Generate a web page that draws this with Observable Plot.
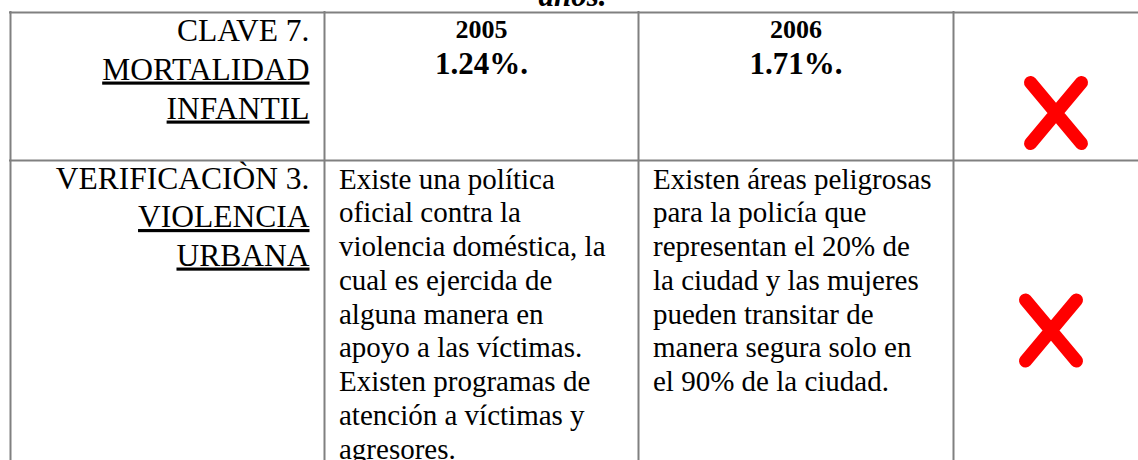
<!DOCTYPE html>
<html>
<head>
<meta charset="utf-8">
<script src="https://cdn.jsdelivr.net/npm/d3@7"></script>
<script src="https://cdn.jsdelivr.net/npm/@observablehq/plot@0.6"></script>
<style>
  html, body { margin: 0; padding: 0; background: #fff; }
  #chart svg { display: block; background: #fff; }
</style>
</head>
<body>
<div id="chart"></div>
<script>
// ---------- DATA ----------
const title = "años.";
const indicatorCodes = ["CLAVE 7.", "VERIFICACIÒN 3."];
const indicatorNames = [["MORTALIDAD", "INFANTIL"], ["VIOLENCIA", "URBANA"]];
const years = ["2005", "2006"];
const mortalityRates = ["1.24%.", "1.71%."];
const violence2005 = [
  "Existe una política",
  "oficial contra la",
  "violencia doméstica, la",
  "cual es ejercida de",
  "alguna manera en",
  "apoyo a las víctimas.",
  "Existen programas de",
  "atención a víctimas y",
  "agresores."
];
const violence2006 = [
  "Existen áreas peligrosas",
  "para la policía que",
  "representan el 20% de",
  "la ciudad y las mujeres",
  "pueden transitar de",
  "manera segura solo en",
  "el 90% de la ciudad."
];
const verdicts = [false, false]; // both rows marked with a red ✗

// ---------- LAYOUT ----------
const W = 1138, H = 460;
const colEdges = [10, 324, 638, 953, 1151];
const rowEdges = [12, 160, 520];
const serif = "'Liberation Serif', 'Times New Roman', serif";
const labelSize = 31.5, bodySize = 29, yearSize = 26, valueSize = 31, titleSize = 31;
const labelLineH = [39, 38.5], bodyLineH = 33.75;
const labelTop = 28, bodyTop = 28, yearTop = 25, valueTop = 61;
const markOffset = [[3.5, 100.5], [-1.5, 170]];
const mid = (a, b) => (a + b) / 2;
// default lineAnchor "middle" puts baseline at y + 0.32em
const base = (baseline, fs) => baseline - 0.32 * fs;

// ---------- DERIVED TABLES ----------
const labelLines = [];
indicatorCodes.forEach((code, r) => {
  [code, ...indicatorNames[r]].forEach((t, i) => {
    labelLines.push({
      text: t,
      x: colEdges[1] - 15,
      y: base(rowEdges[r] + labelTop + i * labelLineH[r], labelSize),
      underline: i > 0
    });
  });
});
const yearCells = years.map((t, c) => ({
  text: t, x: mid(colEdges[c + 1], colEdges[c + 2]), y: base(rowEdges[0] + yearTop, yearSize)
}));
const valueCells = mortalityRates.map((t, c) => ({
  text: t, x: mid(colEdges[c + 1], colEdges[c + 2]), y: base(rowEdges[0] + valueTop, valueSize)
}));
const bodyLines = [];
[violence2005, violence2006].forEach((lines, c) => {
  lines.forEach((t, i) => bodyLines.push({
    text: t, x: colEdges[c + 1] + 14.5, y: base(rowEdges[1] + bodyTop + i * bodyLineH, bodySize)
  }));
});
const crossMarks = verdicts.map((ok, r) => ({
  ok, x: mid(colEdges[3], colEdges[4]) + markOffset[r][0], y: rowEdges[r] + markOffset[r][1]
})).filter(d => !d.ok);

const hLines = rowEdges.slice(0, 2);
const vLines = colEdges.slice(0, 4);

const crossSymbol = {
  draw(ctx) {
    const w = 25.5, h = 30.5;
    ctx.moveTo(-w, -h); ctx.lineTo(w, h);
    ctx.moveTo(w, -h); ctx.lineTo(-w, h);
  }
};

const chart = Plot.plot({
  width: W, height: H, margin: 0,
  x: {type: "identity", axis: null},
  y: {type: "identity", axis: null},
  style: {background: "#fff"},
  marks: [
    Plot.ruleY(hLines, {y: d => d, x1: colEdges[0] - 1, x2: W, stroke: "#808080", strokeWidth: 2}),
    Plot.ruleX(vLines, {x: d => d, y1: rowEdges[0] - 1, y2: H, stroke: "#808080", strokeWidth: 2}),
    Plot.text([title], {x: 572, y: base(5, titleSize), text: d => d, fontFamily: serif, fontSize: titleSize,
      fontWeight: "bold", fontStyle: "italic", fill: "#000"}),
    Plot.text(labelLines.filter(d => !d.underline), {x: "x", y: "y", text: "text", textAnchor: "end",
      fontFamily: serif, fontSize: labelSize, fill: "#000"}),
    Plot.text(labelLines.filter(d => d.underline), {x: "x", y: "y", text: "text", textAnchor: "end",
      fontFamily: serif, fontSize: labelSize, fill: "#000", ariaDescription: "underlined"}),
    Plot.text(yearCells, {x: "x", y: "y", text: "text", fontFamily: serif, fontSize: yearSize,
      fontWeight: "bold", fill: "#000"}),
    Plot.text(valueCells, {x: "x", y: "y", text: "text", fontFamily: serif, fontSize: valueSize,
      fontWeight: "bold", fill: "#000"}),
    Plot.text(bodyLines, {x: "x", y: "y", text: "text", textAnchor: "start",
      fontFamily: serif, fontSize: bodySize, fill: "#000"}),
    Plot.dot(crossMarks, {x: "x", y: "y", symbol: crossSymbol, r: 10, fill: "none",
      stroke: "#ff0000", strokeWidth: 13, strokeLinecap: "round"})
  ]
});

chart.querySelectorAll('g[aria-description="underlined"] text').forEach(t => {
  t.style.textDecoration = "underline";
});
document.getElementById("chart").appendChild(chart);
</script>
</body>
</html>
